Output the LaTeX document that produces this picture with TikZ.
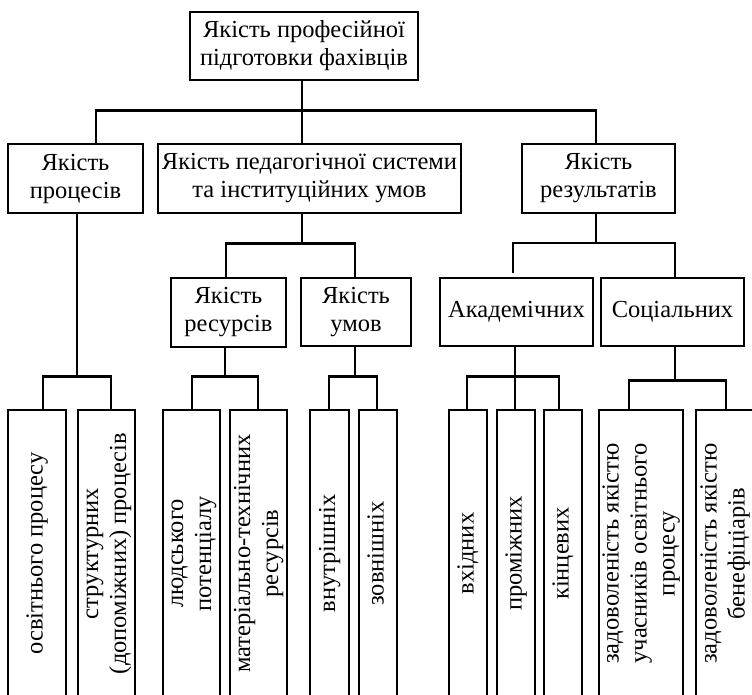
\documentclass[tikz,border=0pt]{standalone}
\usepackage{fontspec}
\setmainfont{Liberation Serif}
\usepackage{graphicx}
% text turned to read from bottom to top, lines stacked left to right
\newcommand{\sidetext}[1]{\rotatebox{90}{\begin{tabular}{@{}c@{}}#1\end{tabular}}}
\begin{document}
\begin{tikzpicture}[x=1pt,y=-1pt,
  box/.style={draw, line width=2.8pt, rectangle, align=center, inner sep=0pt,
              font=\fontsize{24.5}{28}\selectfont},
  leaf/.style={box, minimum height=287pt},
  link/.style={line width=2.8pt}]
\useasboundingbox (0,0) rectangle (752,694);
\fill[white] (0,0) rectangle (752,694);
\clip (0,0) rectangle (752,694);

% root
\node[box, minimum width=228pt, minimum height=68pt] (top) at (304,46)
  {Якість професійної\\підготовки фахівців};

% second level
\node[box, minimum width=135pt, minimum height=69pt] (A) at (75.5,178.5)
  {Якість\\процесів};
\node[box, minimum width=303pt, minimum height=69pt] (B) at (309.5,178.5)
  {Якість педагогічної системи\\та інституційних умов};
\node[box, minimum width=153pt, minimum height=69pt] (C) at (598.5,178.5)
  {Якість\\результатів};

% third level
\node[box, minimum width=115pt, minimum height=69pt] (R) at (228.5,312.5)
  {Якість\\ресурсів};
\node[box, minimum width=110pt, minimum height=68pt] (U) at (356,312)
  {Якість\\умов};
\node[box, minimum width=153pt, minimum height=68pt] (Ak) at (516.5,312)
  {Академічних};
\node[box, minimum width=143pt, minimum height=68pt] (So) at (672.5,312)
  {Соціальних};

% leaves
\node[leaf, minimum width=58pt] (b1) at (37,553.5) {\sidetext{освітнього процесу}};
\node[leaf, minimum width=57pt] (b2) at (106.5,553.5) {\sidetext{структурних\\(допоміжних) процесів}};
\node[leaf, minimum width=57pt] (b3) at (191.5,553.5) {\sidetext{людського\\потенціалу}};
\node[leaf, minimum width=57pt] (b4) at (258.5,553.5) {\sidetext{матеріально-технічних\\ресурсів}};
\node[leaf, minimum width=39pt] (b5) at (329.5,553.5) {\sidetext{внутрішніх}};
\node[leaf, minimum width=38pt] (b6) at (378,553.5) {\sidetext{зовнішніх}};
\node[leaf, minimum width=38pt] (b7) at (468,553.5) {\sidetext{вхідних}};
\node[leaf, minimum width=38pt] (b8) at (516,553.5) {\sidetext{проміжних}};
\node[leaf, minimum width=38pt] (b9) at (563,553.5) {\sidetext{кінцевих}};
\node[leaf, minimum width=84pt] (b10) at (641,553.5) {\sidetext{задоволеність якістю\\учасників освітнього\\процесу}};
\node[leaf, minimum width=58pt] (b11) at (725,553.5) {\sidetext{задоволеність якістю\\бенефіціарів}};

% junction points
\coordinate (jA) at (77,378);
\coordinate (jB) at (302,245);
\coordinate (jR) at (225,378);
\coordinate (jU) at (355,378);
\coordinate (jC) at (596,243);
\coordinate (jAk) at (513,273);
\coordinate (jS) at (675,381);

% root to second level
\draw[link] (top.south -| jB) -- (B.north -| jB);
\draw[link] (A.north -| 96,0) -- ++(0,-32) -| (C.north -| jC);

% processes
\draw[link] (A.south -| jA) -- (jA);
\draw[link] (b1.north -| 43,0) -- ++(0,-32) -| (b2.north -| 111,0);

% pedagogical system
\draw[link] (B.south -| jB) -- (jB);
\draw[link] (R.north -| 226,0) -- ++(0,-33) -| (U.north -| jU);
\draw[link] (R.south -| jR) -- (jR);
\draw[link] (b3.north -| 192,0) -- ++(0,-32) -| (b4.north -| 258,0);
\draw[link] (U.south -| jU) -- (jU);
\draw[link] (b5.north -| 329,0) -- ++(0,-32) -| (b6.north -| 377,0);

% results
\draw[link] (C.south -| jC) -- (jC);
\draw[link] (jAk) -- ++(0,-30) -| (So.north -| jS);
\draw[link] (Ak.south -| 515,0) -- (b8.north -| 515,0);
\draw[link] (b7.north -| 467,0) -- ++(0,-32) -| (b9.north -| 559,0);
\draw[link] (So.south -| jS) -- (jS);
\draw[link] (b10.north -| 629,0) -- ++(0,-28) -| (b11.north -| 726,0);
\end{tikzpicture}
\end{document}
